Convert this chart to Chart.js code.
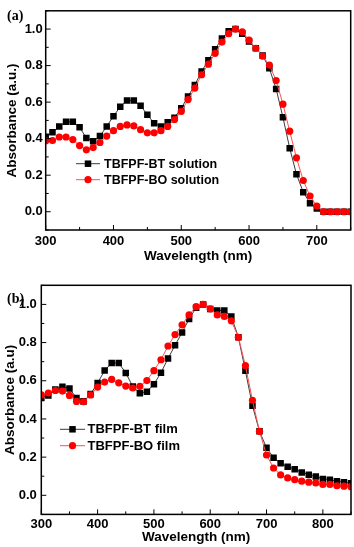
<!DOCTYPE html>
<html>
<head>
<meta charset="utf-8">
<script src="https://cdn.jsdelivr.net/npm/chart.js@4.4.0/dist/chart.umd.min.js"></script>
<style>
  html, body { margin: 0; padding: 0; background: #fff; }
  .panel { position: absolute; left: 0; width: 354px; }
  #wrapA { top: 0; height: 273px; }
  #wrapB { top: 273px; height: 274px; }
</style>
</head>
<body>
<div class="panel" id="wrapA"><canvas id="chartA" width="354" height="273"></canvas></div>
<div class="panel" id="wrapB"><canvas id="chartB" width="354" height="274"></canvas></div>
<script>
// ─── data ────────────────────────────────────────────────────────────────────
// (a) solution spectra, 10 nm steps
const WL_SOL = [300,310,320,330,340,350,360,370,380,390,400,410,420,430,440,450,460,470,480,490,
                500,510,520,530,540,550,560,570,580,590,600,610,620,630,640,650,660,670,680,690,
                700,710,720,730,740,750];
const BT_SOL = [0.410,0.435,0.467,0.493,0.493,0.462,0.404,0.386,0.414,0.467,
                0.523,0.575,0.609,0.609,0.580,0.531,0.484,0.467,0.490,0.515,
                0.567,0.631,0.694,0.768,0.829,0.890,0.948,0.988,1.000,0.975,
                0.932,0.895,0.855,0.785,0.672,0.517,0.348,0.205,0.107,0.047,
                0.018,0.000,0.000,0.000,0.000,0.000];
const BO_SOL = [0.388,0.390,0.409,0.409,0.395,0.362,0.339,0.351,0.379,0.414,
                0.444,0.467,0.475,0.470,0.449,0.432,0.432,0.444,0.467,0.505,
                0.549,0.614,0.677,0.750,0.808,0.867,0.929,0.975,1.000,0.985,
                0.939,0.895,0.852,0.803,0.718,0.589,0.441,0.295,0.171,0.086,
                0.031,0.000,0.000,0.000,0.000,0.000];

// (b) film spectra, 12.5 nm steps
const WL_FILM = [300,312.5,325,337.5,350,362.5,375,387.5,400,412.5,425,437.5,450,462.5,475,487.5,
                 500,512.5,525,537.5,550,562.5,575,587.5,600,612.5,625,637.5,650,662.5,675,687.5,
                 700,712.5,725,737.5,750,762.5,775,787.5,800,812.5,825,837.5,850];
const BT_FILM = [0.510,0.523,0.554,0.569,0.560,0.510,0.492,0.530,0.588,0.654,
                 0.693,0.693,0.641,0.570,0.535,0.543,0.582,0.642,0.716,0.786,
                 0.853,0.923,0.983,1.000,0.976,0.968,0.968,0.937,0.828,0.652,
                 0.469,0.335,0.249,0.197,0.168,0.149,0.137,0.120,0.108,0.098,
                 0.086,0.082,0.074,0.069,0.063];
const BO_FILM = [0.526,0.536,0.549,0.546,0.523,0.492,0.490,0.526,0.567,0.593,
                 0.607,0.589,0.572,0.562,0.571,0.601,0.653,0.710,0.782,0.842,
                 0.893,0.945,0.988,1.000,0.976,0.945,0.937,0.914,0.828,0.679,
                 0.498,0.335,0.211,0.143,0.107,0.091,0.082,0.074,0.069,0.065,
                 0.057,0.057,0.050,0.048,0.045];

const X_TICKS_SOL  = [300,400,500,600,700];
const X_TICKS_FILM = [300,400,500,600,700,800];
const Y_TICKS      = [0,0.2,0.4,0.6,0.8,1.0];

// ─── styles ──────────────────────────────────────────────────────────────────
const FONT = "'Liberation Sans', Arial, sans-serif";
const BT_STYLE = { line: '#3c3c3c', mark: '#000000', pointStyle: 'rect', radius: 4.6 };
const BO_STYLE = { line: '#ff5050', mark: '#ff0000', pointStyle: 'circle', radius: 3.6 };

// inward ticks + full frame box
const frameTicks = {
  id: 'frameTicks',
  afterDraw(chart) {
    const { ctx, chartArea: a, scales: { x, y } } = chart;
    ctx.save();
    ctx.strokeStyle = '#000';
    ctx.lineWidth = 1;
    ctx.beginPath();
    for (let v = x.min; v <= x.max; v += 50) {
      const px = x.getPixelForValue(v);
      const len = v % 100 === 0 ? 5 : 3;
      ctx.moveTo(px, a.bottom); ctx.lineTo(px, a.bottom - len);
    }
    for (let k = -1; k <= 11; k++) {
      const py = y.getPixelForValue(k / 10);
      const len = k % 2 === 0 ? 5 : 3;
      ctx.moveTo(a.left, py); ctx.lineTo(a.left + len, py);
    }
    ctx.stroke();
    ctx.lineWidth = 1.5;
    ctx.strokeRect(a.left, a.top, a.right - a.left, a.bottom - a.top);
    ctx.restore();
  },
};

// legend drawn inside the plot area + panel letter
const insideLegend = {
  id: 'insideLegend',
  afterDraw(chart, args, o) {
    const ctx = chart.ctx;
    ctx.save();
    chart.data.datasets.forEach((ds, i) => {
      const yy = o.y + i * o.gap;
      ctx.strokeStyle = ds.borderColor;
      ctx.lineWidth = 1;
      ctx.beginPath();
      ctx.moveTo(o.x, yy); ctx.lineTo(o.x + o.len, yy);
      ctx.stroke();
      ctx.fillStyle = ds.pointBackgroundColor;
      Chart.helpers.drawPoint(ctx, { pointStyle: ds.pointStyle, radius: ds.pointRadius, rotation: 0, borderWidth: 0 },
        o.x + o.len / 2, yy);
      ctx.fillStyle = '#000';
      ctx.font = `bold ${o.size}px ${FONT}`;
      ctx.textAlign = 'left';
      ctx.textBaseline = 'middle';
      ctx.fillText(ds.label, o.x + o.len + o.textGap, yy + 0.5);
    });
    ctx.font = "bold 14px 'Liberation Serif', 'Times New Roman', serif";
    ctx.textAlign = 'left';
    ctx.textBaseline = 'middle';
    ctx.fillText(o.tag, o.tagX, o.tagY);
    ctx.restore();
  },
};

function makeDataset(label, wl, vals, st, order) {
  return {
    label,
    data: wl.map((w, i) => ({ x: w, y: vals[i] })),
    borderColor: st.line,
    borderWidth: 1,
    pointStyle: st.pointStyle,
    pointRadius: st.radius,
    pointBackgroundColor: st.mark,
    pointBorderColor: st.mark,
    pointBorderWidth: 0,
    tension: 0,
    fill: false,
    order,
  };
}

function renderPanel(canvasId, cfg) {
  const ctx = document.getElementById(canvasId).getContext('2d');
  return new Chart(ctx, {
    type: 'line',
    data: {
      datasets: [
        makeDataset(cfg.btLabel, cfg.wl, cfg.bt, BT_STYLE, 2),
        makeDataset(cfg.boLabel, cfg.wl, cfg.bo, BO_STYLE, 1),
      ],
    },
    options: {
      responsive: false,
      animation: false,
      layout: { autoPadding: false, padding: cfg.padding },
      plugins: {
        legend: { display: false },
        tooltip: { enabled: false },
        insideLegend: cfg.legend,
      },
      scales: {
        x: {
          type: 'linear', min: cfg.xMin, max: cfg.xMax,
          afterFit: s => { s.height = cfg.xHeight; },
          afterBuildTicks: s => { s.ticks = cfg.xTicks.map(v => ({ value: v })); },
          grid: { display: false, drawTicks: false }, border: { display: false },
          ticks: { color: '#000', padding: cfg.xTickPad, maxRotation: 0,
                   font: { family: FONT, size: 13, weight: 'bold' } },
          title: { display: true, text: 'Wavelength (nm)', color: '#000',
                   font: { family: FONT, size: 13.5, weight: 'bold' },
                   padding: { top: 0, bottom: cfg.xTitlePad } },
        },
        y: {
          min: -0.1, max: 1.1,
          afterFit: s => { s.width = cfg.yWidth; },
          afterBuildTicks: s => { s.ticks = Y_TICKS.map(v => ({ value: v })); },
          grid: { display: false, drawTicks: false }, border: { display: false },
          ticks: { color: '#000', padding: cfg.yTickPad, callback: v => v.toFixed(1),
                   font: { family: FONT, size: 13, weight: 'bold' } },
          title: { display: true, text: cfg.yTitle, color: '#000',
                   font: { family: FONT, size: 13.5, weight: 'bold' },
                   padding: { top: cfg.yTitlePad, bottom: 0 } },
        },
      },
    },
    plugins: [frameTicks, insideLegend],
  });
}

renderPanel('chartA', {
  wl: WL_SOL, bt: BT_SOL, bo: BO_SOL,
  btLabel: 'TBFPF-BT solution', boLabel: 'TBFPF-BO solution',
  xMin: 300, xMax: 750, xTicks: X_TICKS_SOL,
  padding: { top: 2, right: 3.3, bottom: 0, left: 0 },
  xHeight: 43, yWidth: 45.7, xTickPad: 4, yTickPad: 3, xTitlePad: 9, yTitlePad: 4,
  yTitle: 'Absorbance (a.u.)',
  legend: { x: 76, len: 24, textGap: 4, y: 163.7, gap: 16, size: 12.5, tag: '(a)', tagX: 7, tagY: 16 },
});

renderPanel('chartB', {
  wl: WL_FILM, bt: BT_FILM, bo: BO_FILM,
  btLabel: 'TBFPF-BT film', boLabel: 'TBFPF-BO film',
  xMin: 300, xMax: 850, xTicks: X_TICKS_FILM,
  padding: { top: 8.7, right: 3, bottom: 0, left: 0 },
  xHeight: 32.6, yWidth: 41.3, xTickPad: 2, yTickPad: 4.5, xTitlePad: 2, yTitlePad: 2.5,
  yTitle: 'Absorbance (a.u)',
  legend: { x: 60, len: 25, textGap: 2.5, y: 156.3, gap: 16.4, size: 13, tag: '(b)', tagX: 7, tagY: 26 },
});
</script>
</body>
</html>
